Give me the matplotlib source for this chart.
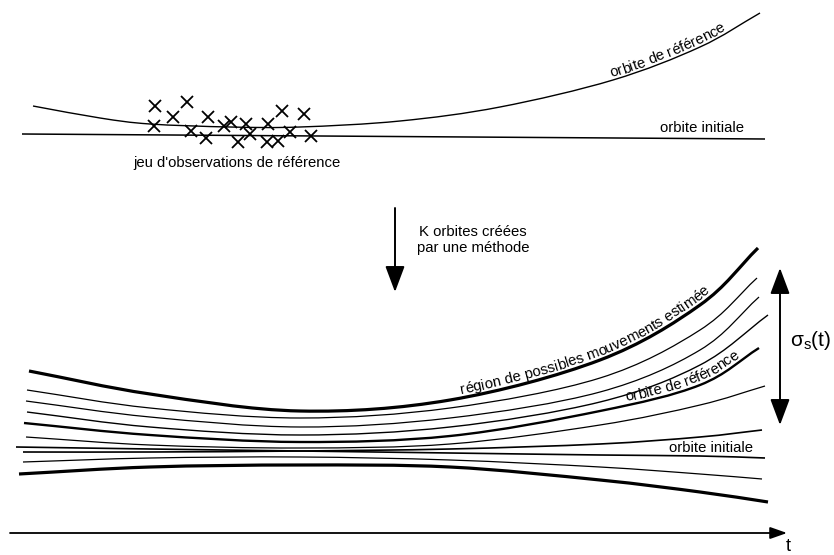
import matplotlib
matplotlib.use("Agg")
import matplotlib.pyplot as plt
import matplotlib.patches as patches
from matplotlib.path import Path
from matplotlib.font_manager import FontProperties, findfont, get_font
import numpy as np

plt.rcParams['font.family'] = ['Liberation Sans', 'DejaVu Sans']

# everything is drawn in picture pixels (834 x 555), y going down

# --- top panel ---
top_ref_x = [33, 100, 150, 230, 300, 400, 500, 613, 700, 760]
top_ref_y = [106, 118, 124, 127, 127, 121, 107, 80, 47, 13]
top_init_x = [22, 765]
top_init_y = [134, 139]

obs_x = [155, 173, 187, 154, 208, 191, 206, 224, 231, 246, 238, 250, 268, 282, 304, 290, 267, 278, 311]
obs_y = [106, 117, 102, 126, 117, 131, 138, 126, 122, 124, 142, 134, 124, 111, 114, 132, 142, 141, 136]

# --- bottom panel: the K orbits ---
orbit_left_x = [29, 27, 26, 27, 24, 26, 23, 16, 23, 19]
orbit_left_y = [371, 390, 401, 412, 423, 437, 452, 447, 462, 474]
orbit_mid_x = [150, 300, 450, 600, 700]
orbit_mid_y = [
    [394, 411, 400, 360, 305],
    [408, 418, 408, 378, 330],
    [417, 427, 418, 392, 350],
    [427, 435, 427, 402, 365],
    [435, 442, 436, 411, 385],
    [445, 448, 444, 425, 405],
    [452, 451, 449, 444, 437],
    [449, 451, 453, 455, 456],
    [458, 457, 460, 467, 474],
    [467, 465, 467, 480, 492],
]
orbit_right_x = [758, 757, 759, 768, 759, 765, 762, 765, 762, 768]
orbit_right_y = [248, 278, 297, 315, 348, 386, 430, 458, 479, 502]
orbit_lw = [2.3, 0.9, 0.9, 1.0, 1.7, 0.9, 1.2, 1.2, 0.9, 2.3]

FS = 10.7


def smooth_path(xs, ys):
    # catmull-rom through the points, turned into bezier segments
    pts = np.column_stack([xs, ys]).astype(float)
    if len(pts) == 2:
        return Path(pts)
    ext = np.vstack([2 * pts[0] - pts[1], pts, 2 * pts[-1] - pts[-2]])
    verts = [pts[0]]
    codes = [Path.MOVETO]
    for i in range(1, len(ext) - 2):
        p0, p1, p2, p3 = ext[i - 1], ext[i], ext[i + 1], ext[i + 2]
        verts += [p1 + (p2 - p0) / 6, p2 - (p3 - p1) / 6, p2]
        codes += [Path.CURVE4] * 3
    return Path(verts, codes)


def dense_points(path):
    out = []
    for seg, _ in path.iter_bezier():
        out.append(seg(np.linspace(0, 1, 40)))
    return np.vstack(out)


def advance(ch, size):
    font = get_font(findfont(FontProperties(family='Liberation Sans')))
    font.set_size(size, 100)
    glyph = font.load_char(ord(ch))
    try:
        return glyph.linearHoriAdvance / 65536
    except AttributeError:
        return glyph.horiAdvance / 64


def text_along(ax, path, s, x_start, offset, size):
    pts = dense_points(path)
    d = np.concatenate([[0], np.cumsum(np.hypot(*np.diff(pts, axis=0).T))])
    pos = np.interp(x_start, pts[:, 0], d)
    for ch in s:
        adv = advance(ch, size)
        c = pos + adv / 2
        x = np.interp(c, d, pts[:, 0])
        y = np.interp(c, d, pts[:, 1])
        dx = np.interp(c + 2, d, pts[:, 0]) - np.interp(c - 2, d, pts[:, 0])
        dy = np.interp(c + 2, d, pts[:, 1]) - np.interp(c - 2, d, pts[:, 1])
        n = np.hypot(dx, dy)
        tx_, ty_ = dx / n, -dy / n          # tangent, screen coords
        nx, ny = -ty_, tx_                  # normal pointing up on screen
        ang = np.degrees(np.arctan2(ty_, tx_))
        ax.text(x + nx * offset, y - ny * offset, ch, fontsize=size,
                ha='center', va='baseline', rotation=ang, rotation_mode='anchor')
        pos += adv


fig = plt.figure(figsize=(8.34, 5.55), dpi=100)
ax = fig.add_axes([0, 0, 1, 1])
ax.set_xlim(0, 834)
ax.set_ylim(555, 0)
ax.axis('off')

# top panel
top_ref = smooth_path(top_ref_x, top_ref_y)
ax.add_patch(patches.PathPatch(top_ref, fill=False, lw=1.0, edgecolor='black'))
ax.add_patch(patches.PathPatch(smooth_path(top_init_x, top_init_y), fill=False, lw=1.1, edgecolor='black'))
ax.plot(obs_x, obs_y, 'x', color='black', ms=9, mew=1.3)
ax.text(237, 163, "jeu d'observations de référence", fontsize=FS, ha='center', va='center')
ax.text(702, 128, "orbite initiale", fontsize=FS, ha='center', va='center')
text_along(ax, top_ref, "orbite de référence", 612, 3, FS)

# arrow between panels
ax.annotate('', xy=(395, 292), xytext=(395, 208),
            arrowprops=dict(arrowstyle='-|>,head_length=0.8,head_width=0.3', mutation_scale=20,
                            lw=1.4, color='black', shrinkA=0, shrinkB=0))
ax.text(473, 240, "K orbites créées\npar une méthode", fontsize=FS, ha='center', va='center',
        linespacing=1.1)

# bottom panel
paths = []
for i in range(len(orbit_left_x)):
    xs = [orbit_left_x[i]] + orbit_mid_x + [orbit_right_x[i]]
    ys = [orbit_left_y[i]] + orbit_mid_y[i] + [orbit_right_y[i]]
    p = smooth_path(xs, ys)
    paths.append(p)
    ax.add_patch(patches.PathPatch(p, fill=False, lw=orbit_lw[i], edgecolor='black'))

text_along(ax, paths[0], "région de possibles mouvements estimée", 462, 4, FS)
text_along(ax, paths[4], "orbite de référence", 627, 4, FS)
ax.text(711, 448, "orbite initiale", fontsize=FS, ha='center', va='center')

# sigma arrow
ax.annotate('', xy=(780, 268), xytext=(780, 425),
            arrowprops=dict(arrowstyle='<|-|>,head_length=0.8,head_width=0.3', mutation_scale=20,
                            lw=1.4, color='black', shrinkA=0, shrinkB=0))
ax.text(790, 340, r'$\mathregular{σ_{s}(t)}$', fontsize=15, ha='left', va='center')

# time axis
ax.annotate('', xy=(787, 533), xytext=(10, 533),
            arrowprops=dict(arrowstyle='-|>,head_length=0.85,head_width=0.3', mutation_scale=12,
                            lw=1.3, color='black', shrinkA=0, shrinkB=0))
ax.text(788, 538, "t", fontsize=13, ha='center', va='top')

plt.savefig("out.png", dpi=100)
